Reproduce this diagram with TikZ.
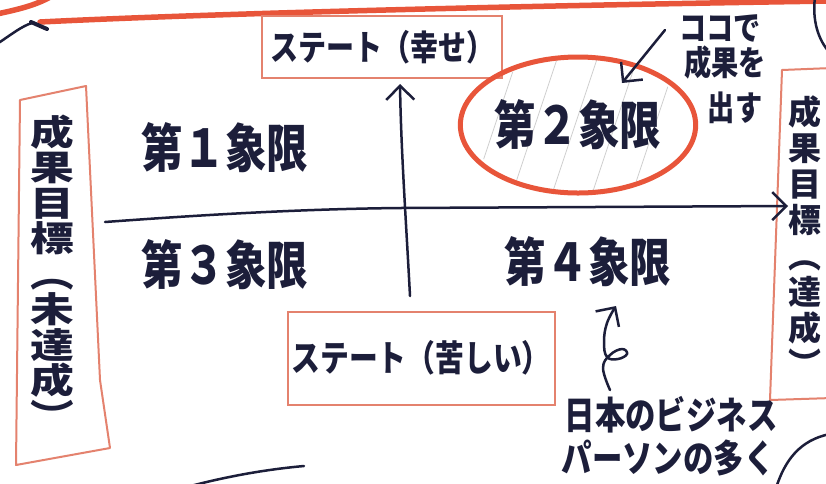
\documentclass[tikz,border=0pt]{standalone}
\usepackage{fontspec}
\newfontfamily\jp[FakeStretch=0.8]{Noto Sans CJK JP}
\newfontfamily\jpn{Noto Sans CJK JP}
\newfontfamily\jpw[FakeStretch=1.25]{Noto Sans CJK JP}
\usetikzlibrary{arrows.meta,shapes.geometric}
\definecolor{ink}{HTML}{1C1E3A}
\definecolor{redpen}{HTML}{E8553A}
\definecolor{boxred}{HTML}{E4826E}
\definecolor{hatchgray}{HTML}{CFCFCF}
\tikzset{
  inktext/.style={text=ink, inner sep=0pt},
  quadlabel/.style={inktext, font=\jp\bfseries\fontsize{52}{56}\selectfont},
  statebox/.style={draw=boxred, line width=2pt, inner sep=0pt, inktext},
  inkline/.style={draw=ink, line width=2.5pt, line cap=round, line join=round},
  inkarrow/.style={inkline, -{Straight Barb[length=14pt,width=28pt,line width=2.5pt]}},
  redline/.style={draw=redpen, line width=5.5pt, line cap=round},
  vtext/.style={inktext, align=center},
}
\begin{document}
\begin{tikzpicture}[x=1pt,y=-1pt]
\fill[white] (0,0) rectangle (826,483);
\path[use as bounding box] (0,0) rectangle (826,483);

% decorative strokes at the edges
\draw[redline] (40,22) .. controls (200,14) and (500,6) .. (832,1);
\draw[redline] (-3,14) .. controls (15,10) and (35,6) .. (52,-4);
\draw[inkline] (-3,44) .. controls (12,34) and (22,26) .. (32,23);
\draw[draw=ink, line width=4pt, line cap=round] (31,22) -- (47,29);
\draw[inkline] (815,-3) .. controls (812,20) and (818,40) .. (830,53);
\draw[inkline] (776,488) .. controls (785,460) and (800,440) .. (830,434);
\draw[inkline] (183,488) .. controls (220,478) and (260,470) .. (304,466);

% side boxes
\draw[boxred, line width=2pt, line join=round] (20,100) -- (86,86) -- (100,380) -- (110,448) -- (16,465) -- cycle;
\draw[boxred, line width=2pt, line join=round] (832,68) -- (782,70) -- (770,400) -- (832,398);
\node[vtext, font=\jpw\bfseries\fontsize{35}{35.5}\selectfont] (left) at (52,272) {成\\果\\目\\標\\︵\\未\\達\\成\\︶};
\node[vtext, font=\jpn\bfseries\fontsize{33}{36}\selectfont] (right) at (805,236) {成\\果\\目\\標\\︵\\達\\成\\︶};

% state boxes
\node[statebox, minimum width=240pt, minimum height=62pt, font=\jp\bfseries\fontsize{35}{38}\selectfont] (top) at (382,47) {ステート（幸せ）};
\node[statebox, minimum width=267pt, minimum height=93pt, font=\jp\bfseries\fontsize{36}{38}\selectfont] (bottom) at (421,358) {\raisebox{4pt}{ステート（苦しい）}};

% axes
\coordinate (vstart) at (410,296);
\coordinate (vend) at (400,84);
\draw[inkarrow] (vstart) .. controls (406,220) and (401,150) .. (vend);
\coordinate (hstart) at (105,222);
\coordinate (hend) at (788,206);
\draw[inkarrow] (hstart) .. controls (200,215) and (300,209) .. (400,208) -- (hend);

% second quadrant highlight
\begin{scope}
\clip (578,125) ellipse [x radius=110, y radius=66];
\foreach \x in {470,510,...,710}
  \draw[hatchgray, line width=0.8pt] (\x,200) -- (\x+50,50);
\end{scope}
\node[ellipse, draw=redpen, line width=5pt, minimum width=225pt, minimum height=136pt, quadlabel] (q2) at (578,125) {第２象限};

% quadrant labels
\node[quadlabel] (q1) at (225,148) {第１象限};
\node[quadlabel] (q3) at (225,265) {第３象限};
\node[quadlabel] (q4) at (588,262) {第４象限};

% note top right
\node[inktext, font=\jp\bfseries\fontsize{34}{36}\selectfont] (n1) at (720,28) {ココで};
\node[inktext, font=\jp\bfseries\fontsize{34}{36}\selectfont] (n2) at (725,63) {成果を};
\node[inktext, font=\jp\bfseries\fontsize{34}{36}\selectfont] (n3) at (735,108) {出す};
\coordinate (nstart) at (665,30);
\coordinate (nend) at (622,83);
\draw[inkarrow] (nstart) -- (nend);

% note bottom right
\node[inktext, font=\jp\bfseries\fontsize{38}{40}\selectfont] (b1) at (671,415) {日本のビジネス};
\node[inktext, font=\jp\bfseries\fontsize{38}{40}\selectfont] (b2) at (668,458) {パーソンの多く};
\draw[inkarrow] plot[smooth, tension=0.7] coordinates {(610,390) (603,368) (610,355) (622,349) (627,354) (618,359) (607,357) (604,342) (607,323) (616,306)};
\end{tikzpicture}
\end{document}
